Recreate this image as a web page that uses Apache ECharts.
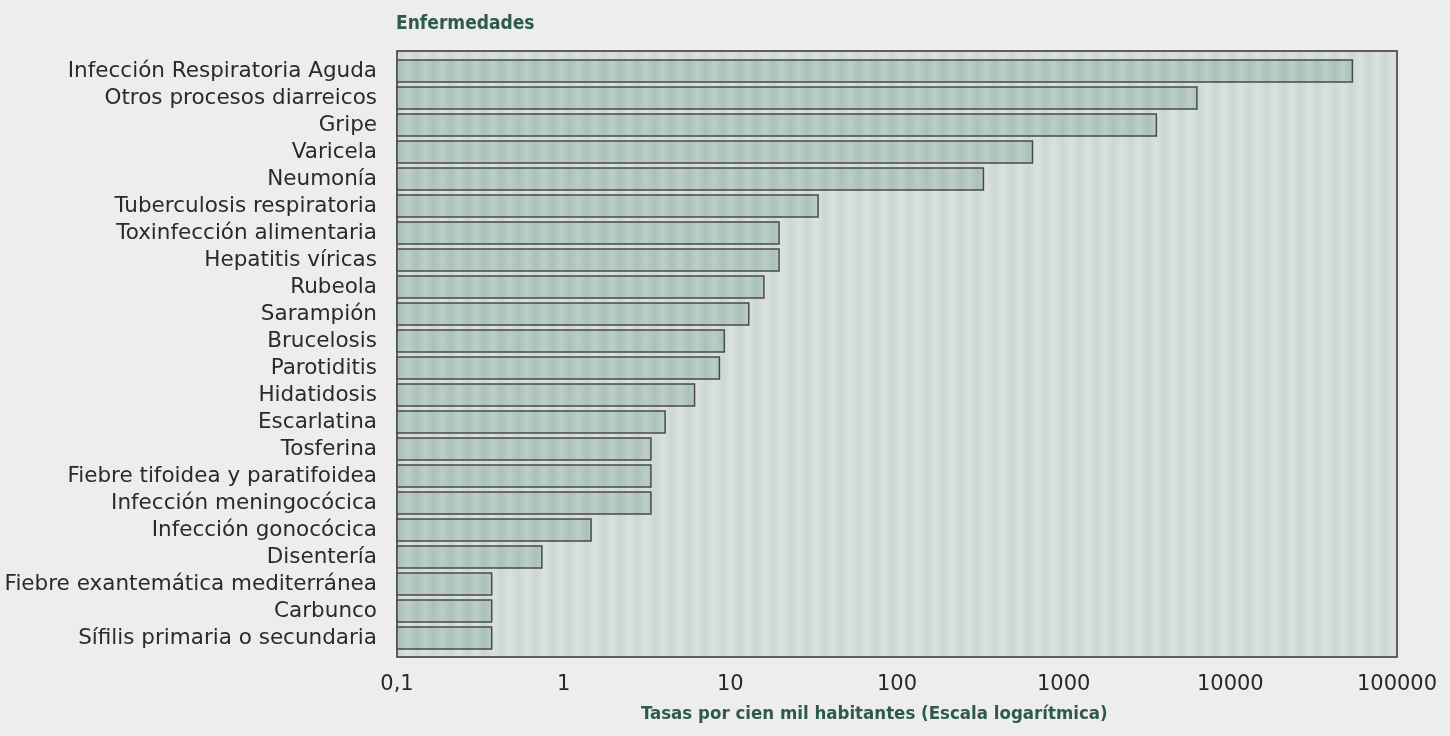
<!DOCTYPE html>
<html>
<head>
<meta charset="utf-8">
<script src="https://cdn.jsdelivr.net/npm/echarts@6/dist/echarts.min.js"></script>
<style>
  html, body { margin: 0; padding: 0; background: #eeeded; }
  #chart { width: 1450px; height: 736px; }
</style>
</head>
<body>
<div id="chart"></div>
<script>
const categories = [
  'Infección Respiratoria Aguda',
  'Otros procesos diarreicos',
  'Gripe',
  'Varicela',
  'Neumonía',
  'Tuberculosis respiratoria',
  'Toxinfección alimentaria',
  'Hepatitis víricas',
  'Rubeola',
  'Sarampión',
  'Brucelosis',
  'Parotiditis',
  'Hidatidosis',
  'Escarlatina',
  'Tosferina',
  'Fiebre tifoidea y paratifoidea',
  'Infección meningocócica',
  'Infección gonocócica',
  'Disentería',
  'Fiebre exantemática mediterránea',
  'Carbunco',
  'Sífilis primaria o secundaria'
];

// tasas por cien mil habitantes
const rates = [
  54000, 6300, 3600, 650, 330, 33.6, 19.6, 19.6, 15.9, 12.9, 9.2,
  8.6, 6.1, 4.06, 3.34, 3.34, 3.34, 1.46, 0.74, 0.37, 0.37, 0.37
];

const xMin = 0.1;
const xMax = 100000;

const titleText = 'Enfermedades';
const axisTitle = 'Tasas por cien mil habitantes (Escala logarítmica)';

const green = '#2d5a4d';
const textColor = '#2a2a2a';
const titleFont = '"DejaVu Sans Condensed", "DejaVu Sans", sans-serif';

// vertical stripes, like the screen print of the original
function stripes(light, dark) {
  const c = document.createElement('canvas');
  c.width = 17;
  c.height = 4;
  const ctx = c.getContext('2d');
  const g = ctx.createLinearGradient(0, 0, 17, 0);
  g.addColorStop(0, light);
  g.addColorStop(0.5, dark);
  g.addColorStop(1, light);
  ctx.fillStyle = g;
  ctx.fillRect(0, 0, 17, 4);
  return {image: c, repeat: 'repeat'};
}

const bgFill = stripes('#dae2df', '#cbd7d2');
const barFill = stripes('#bccec7', '#aac1b9');

const chart = echarts.init(document.getElementById('chart'));

chart.setOption({
  backgroundColor: '#eeeded',
  animation: false,
  title: [
    {
      text: titleText,
      left: 396,
      top: 15,
      padding: 0,
      textStyle: {fontFamily: titleFont, fontWeight: 'bold', fontSize: 19, color: green}
    },
    {
      text: axisTitle,
      left: 641,
      top: 705,
      padding: 0,
      textStyle: {fontFamily: titleFont, fontWeight: 'bold', fontSize: 18.5, color: green}
    }
  ],
  graphic: [
    {
      type: 'rect',
      z: -10,
      shape: {x: 397, y: 51, width: 1000, height: 606},
      style: {fill: bgFill, stroke: '#333', lineWidth: 1.5}
    }
  ],
  grid: {left: 397, top: 57.5, width: 1000, height: 594, containLabel: false},
  xAxis: {
    type: 'log',
    logBase: 10,
    min: xMin,
    max: xMax,
    axisLine: {show: false},
    axisTick: {show: false},
    splitLine: {show: false},
    minorTick: {show: false},
    axisLabel: {
      margin: 23,
      fontFamily: 'DejaVu Sans',
      fontSize: 21,
      color: textColor,
      formatter: (v) => String(v).replace('.', ',')
    }
  },
  yAxis: {
    type: 'category',
    inverse: true,
    data: categories,
    axisLine: {show: false},
    axisTick: {show: false},
    axisLabel: {
      interval: 0,
      margin: 20,
      fontFamily: 'DejaVu Sans',
      fontSize: 21.5,
      color: textColor
    }
  },
  series: [
    {
      type: 'custom',
      data: rates.map((v, i) => [v, i]),
      encode: {x: 0, y: 1},
      renderItem: (params, api) => {
        const idx = api.value(1);
        const start = api.coord([xMin, idx]);
        const end = api.coord([api.value(0), idx]);
        const h = 22;
        return {
          type: 'rect',
          shape: {x: start[0], y: start[1] - h / 2, width: end[0] - start[0], height: h},
          style: {fill: barFill, stroke: '#4a4a4a', lineWidth: 1.5}
        };
      }
    }
  ]
});
</script>
</body>
</html>
